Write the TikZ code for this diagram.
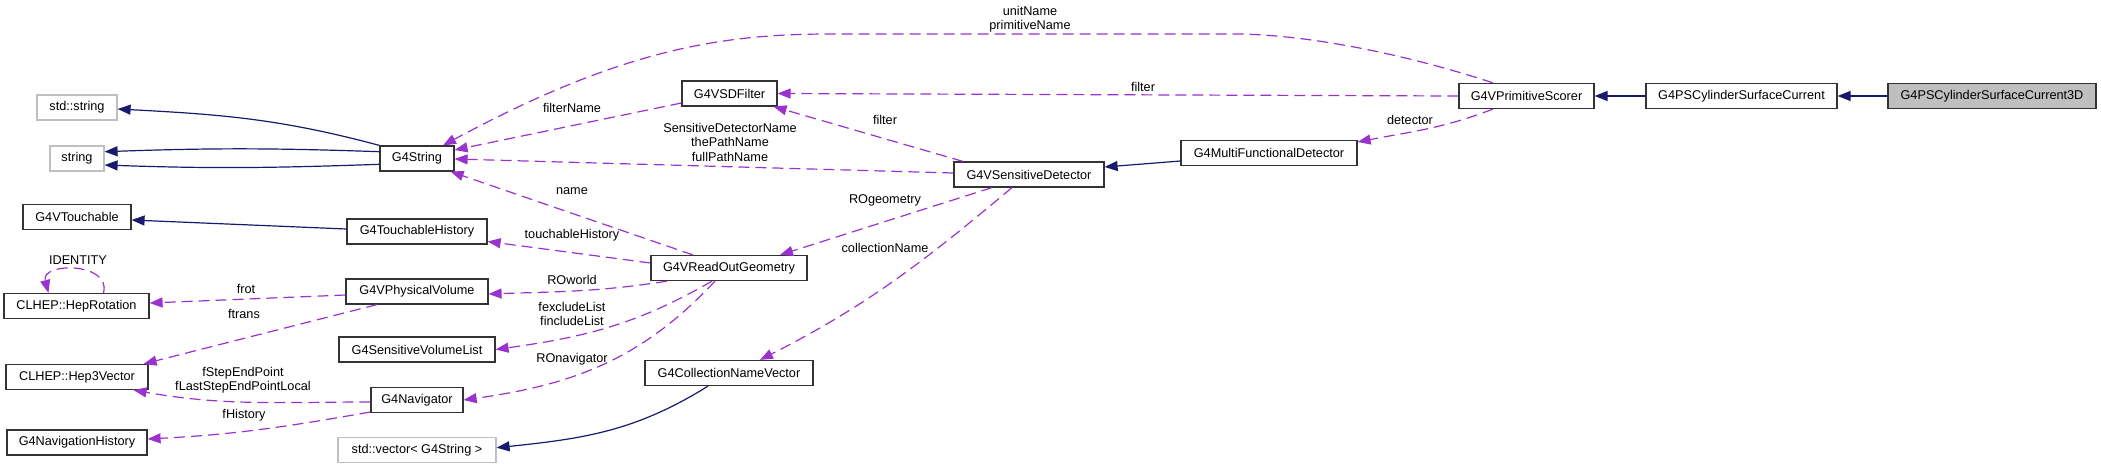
\documentclass[tikz,border=0pt]{standalone}
\usepackage{fontspec}
\setmainfont{Liberation Sans}
\usepackage{xcolor}
\usepackage{tikz}
\usetikzlibrary{arrows.meta}

\definecolor{inhblue}{HTML}{191970}
\definecolor{mbrpurple}{HTML}{9A32CD}
\definecolor{extgray}{HTML}{BFBFBF}

\begin{document}
\begin{tikzpicture}[x=1pt,y=-1pt,>={Triangle[length=13pt,width=10pt]},
    every node/.style={font=\fontsize{12.7}{14.5}\selectfont},
    cls/.style={draw=black!80,line width=1.2pt,minimum height=25pt,inner sep=0pt,fill=white},
    ext/.style={cls,draw=extgray},
    cur/.style={cls,fill=extgray},
    lbl/.style={align=center,inner sep=0pt},
    inherit/.style={->,draw=inhblue,line width=1.2pt},
    member/.style={->,draw=mbrpurple,line width=1.2pt,dash pattern=on 11pt off 6pt}]
    \useasboundingbox (0,0) rectangle (2101,469);

    % classes
    \node[ext,minimum width=80pt] (stdstring) at (77,107.5) {std::string};
    \node[ext,minimum width=54pt] (strg) at (77,158.5) {string};
    \node[cls,minimum width=74pt] (g4string) at (417,158.5) {G4String};
    \node[cls,minimum width=108pt] (vtouch) at (77,217) {G4VTouchable};
    \node[cls,minimum width=140pt] (touchhist) at (417,231.5) {G4TouchableHistory};
    \node[cls,minimum width=145pt] (heprot) at (76.5,306) {CLHEP::HepRotation};
    \node[cls,minimum width=142pt] (hep3vec) at (77,377) {CLHEP::Hep3Vector};
    \node[cls,minimum width=140pt] (navhist) at (77,442.5) {G4NavigationHistory};
    \node[cls,minimum width=142pt] (physvol) at (417,291.5) {G4VPhysicalVolume};
    \node[cls,minimum width=156pt] (sensvol) at (417,349.5) {G4SensitiveVolumeList};
    \node[cls,minimum width=92pt] (navigator) at (417,400) {G4Navigator};
    \node[ext,minimum width=158pt] (stdvector) at (417,450) {std::vector< G4String >};
    \node[cls,minimum width=95pt] (sdfilter) at (729.5,93.5) {G4VSDFilter};
    \node[cls,minimum width=156pt] (rogeom) at (729,268) {G4VReadOutGeometry};
    \node[cls,minimum width=168pt] (collvec) at (729,373) {G4CollectionNameVector};
    \node[cls,minimum width=150pt] (sensdet) at (1029,174.5) {G4VSensitiveDetector};
    \node[cls,minimum width=176pt] (mfd) at (1269,153) {G4MultiFunctionalDetector};
    \node[cls,minimum width=135pt] (primscorer) at (1526.5,96) {G4VPrimitiveScorer};
    \node[cls,minimum width=191pt] (pscyl) at (1741.5,96) {G4PSCylinderSurfaceCurrent};
    \node[cur,minimum width=208pt] (pscyl3d) at (1992,96) {G4PSCylinderSurfaceCurrent3D};

    % member labels
    \node[lbl] (lunit) at (1030,19) {unitName\\primitiveName};
    \node[lbl] (lfilter1) at (1143,87) {filter};
    \node[lbl] (lfilter2) at (885,120) {filter};
    \node[lbl] (ldetector) at (1410,120) {detector};
    \node[lbl] (lfiltername) at (572,108) {filterName};
    \node[lbl] (lsdname) at (730,142) {SensitiveDetectorName\\thePathName\\fullPathName};
    \node[lbl] (lname) at (572,191) {name};
    \node[lbl] (ltouch) at (572,235) {touchableHistory};
    \node[lbl] (lrogeom) at (885,200) {ROgeometry};
    \node[lbl] (lcoll) at (885,248) {collectionName};
    \node[lbl] (lroworld) at (572,280) {ROworld};
    \node[lbl] (llists) at (572,314) {fexcludeList\\fincludeList};
    \node[lbl] (lronav) at (572,359) {ROnavigator};
    \node[lbl] (lidentity) at (78,260) {IDENTITY};
    \node[lbl] (lfrot) at (246,289) {frot};
    \node[lbl] (lftrans) at (244,314) {ftrans};
    \node[lbl] (lstep) at (243,380) {fStepEndPoint\\fLastStepEndPointLocal};
    \node[lbl] (lhist) at (244,415) {fHistory};

    % inheritance
    \path (g4string.north west) edge[inherit,out=165,in=-3] ([yshift=-1.5pt]stdstring.east)
          ([yshift=6.8pt]g4string.west) edge[inherit,out=178,in=2] ([yshift=6.8pt]strg.east)
          ([yshift=-5.8pt]g4string.west) edge[inherit,out=-178,in=-2] ([yshift=-6.5pt]strg.east)
          ([yshift=2.5pt]touchhist.west) edge[inherit] ([yshift=-3pt]vtouch.east)
          ([xshift=-21pt]collvec.south) edge[inherit,out=-148,in=6] ([yshift=2.3pt]stdvector.east)
          ([yshift=-8pt]mfd.west) edge[inherit] ([yshift=7.5pt]sensdet.east)
          (pscyl.west) edge[inherit] (primscorer.east)
          (pscyl3d.west) edge[inherit] (pscyl.east);

    % members
    \draw[member] ([xshift=-33.5pt]primscorer.north) .. controls (1433,63) and (1330,36) .. (1240,34)
          -- (830,34) .. controls (720,34) and (620,50) .. ([xshift=26pt]g4string.north);
    \path (primscorer.west) edge[member] (sdfilter.east)
          ([xshift=-33.5pt]primscorer.south) edge[member,out=-159,in=11] ([yshift=11pt]mfd.east)
          ([yshift=-9.5pt]sdfilter.west) edge[member] ([yshift=8.5pt]g4string.east)
          ([xshift=-66pt]sensdet.north) edge[member] ([xshift=-4pt]sdfilter.south east)
          ([yshift=1.5pt]sensdet.west) edge[member] ([yshift=-0.5pt]g4string.east)
          ([xshift=-37pt]sensdet.south) edge[member] ([xshift=51pt]rogeom.north)
          ([xshift=-17pt]sensdet.south) edge[member,out=-140,in=27] ([xshift=31pt]collvec.north)
          ([xshift=-36pt]rogeom.north) edge[member] ([xshift=-4pt]g4string.south east)
          ([yshift=5pt]rogeom.west) edge[member] ([yshift=-10pt]touchhist.east)
          ([xshift=-62pt]rogeom.south) edge[member,out=-171,in=2] ([yshift=-2.5pt]physvol.east)
          ([xshift=-17pt]rogeom.south) edge[member,out=-150,in=8] (sensvol.east)
          ([xshift=-14pt]rogeom.south) edge[member,out=-133,in=8] (navigator.east)
          ([yshift=-3.5pt]physvol.west) edge[member] ([yshift=3pt]heprot.east)
          ([xshift=-40pt]physvol.south) edge[member] ([xshift=-5pt]hep3vec.north east)
          ([yshift=-2pt]navigator.west) edge[member,out=180,in=-10] ([xshift=-15pt]hep3vec.south east)
          ([yshift=-12pt]navigator.west) edge[member,out=-170,in=3] ([yshift=3.5pt]navhist.east)
          ([xshift=27pt]heprot.north) edge[member,out=75,in=105,distance=32pt] ([xshift=-28pt]heprot.north);
\end{tikzpicture}
\end{document}
